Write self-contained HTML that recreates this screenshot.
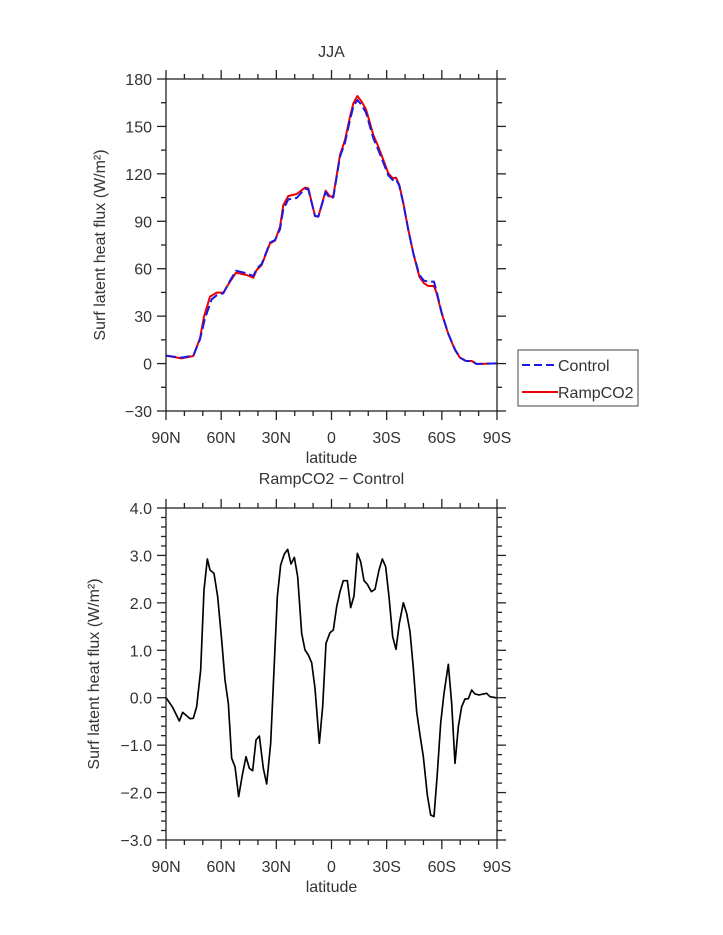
<!DOCTYPE html>
<html><head><meta charset="utf-8"><style>
body{margin:0;background:#fff}
svg{display:block}
text{font-family:"Liberation Sans",sans-serif;fill:#333;font-size:16px}
</style></head><body>
<svg id="s" width="723" height="935" viewBox="0 0 723 935" xmlns="http://www.w3.org/2000/svg">
<g transform="translate(150,60) scale(0.33333)" fill="none" stroke-width="5" stroke-linejoin="round">
<polyline stroke="#e00" stroke-width="6" points="48,887 95,895 130,888 150,835 162,770 180,710 200,698 220,698 240,665 258,638 290,645 310,653 320,630 335,615 360,550 375,542 390,500 400,435 415,408 440,402 465,383 475,385 495,468 505,470 527,392 540,410 550,408 570,285 585,240 600,170 610,130 622,108 635,125 648,148 660,190 670,225 685,260 700,300 715,340 728,355 738,353 748,375 760,430 775,510 790,580 808,650 822,670 835,678 852,678 860,700 875,760 895,822 915,870 930,893 948,903 965,903 980,912 1041,910"/>
<polyline stroke="#1a1ae0" stroke-width="6" stroke-dasharray="30,12" points="48,887 95,893 130,887 150,838 165,775 185,718 200,706 220,700 240,662 258,632 290,640 310,648 320,626 335,612 360,548 375,540 390,508 400,448 415,418 440,414 465,386 475,388 495,468 505,470 527,396 540,416 550,412 570,290 585,248 600,180 610,140 622,120 635,135 648,158 660,200 670,235 685,270 700,308 715,346 728,360 738,357 748,378 760,430 775,510 790,580 808,645 822,662 835,665 852,665 860,695 875,758 895,822 915,868 930,893 948,903 965,903 980,912 1041,910"/>
<g transform="translate(0,1290)"><polyline stroke="#000" points="48,623 68,652 88,693 98,667 120,686 130,685 140,650 152,540 162,300 172,207 180,240 192,250 203,320 215,450 225,570 235,640 245,805 255,830 266,920 277,855 288,800 298,835 308,842 318,750 328,738 340,835 350,882 362,760 372,540 382,320 392,225 403,192 413,178 423,222 433,202 443,260 455,430 465,480 475,495 485,518 495,595 508,760 518,650 528,460 540,428 550,420 560,350 570,305 580,272 592,272 602,353 612,318 622,190 632,215 642,272 652,283 664,305 675,298 687,240 697,207 707,230 717,320 728,440 738,478 748,400 760,338 770,370 780,425 790,535 800,665 810,735 820,800 832,915 842,975 852,980 862,850 872,700 882,610 895,523 905,640 915,820 925,710 935,650 945,627 955,626 965,600 975,612 987,615 1010,610 1020,620 1041,624"/></g>
</g>
<g id="ax" stroke="#222" stroke-width="1.3" fill="none"></g>
<g id="tx"></g>
<rect x="518" y="350" width="120" height="56" fill="none" stroke="#444" stroke-width="1"/>
<line x1="522" y1="365" x2="558" y2="365" stroke="#1a1ae0" stroke-width="2" stroke-dasharray="8,4"/>
<line x1="522" y1="392" x2="558" y2="392" stroke="#e00" stroke-width="2"/>
<text x="558" y="371" font-size="15">Control</text>
<text x="558" y="398" font-size="15">RampCO2</text>
</svg>
<script>
var ns="http://www.w3.org/2000/svg",ax=document.getElementById('ax'),tx=document.getElementById('tx');
function L(a,b,c,d){var e=document.createElementNS(ns,'line');e.setAttribute('x1',a);e.setAttribute('y1',b);e.setAttribute('x2',c);e.setAttribute('y2',d);ax.appendChild(e);}
function T(s,x,y,anc,rot,fs){var e=document.createElementNS(ns,'text');e.setAttribute('x',x);e.setAttribute('y',y);e.setAttribute('text-anchor',anc);if(fs)e.setAttribute('font-size',fs);if(rot)e.setAttribute('transform','rotate(-90 '+x+' '+y+')');e.textContent=s;tx.appendChild(e);}
var X0=166,X1=497,xl=['90N','60N','30N','0','30S','60S','90S'];
function panel(Y0,Y1,ymin,ymax,major,minor,fmt,ylab,title,ty,lx){
 var r=document.createElementNS(ns,'rect');ax.appendChild(r);
 r.setAttribute('x',X0);r.setAttribute('y',Y0);r.setAttribute('width',X1-X0);r.setAttribute('height',Y1-Y0);
 for(var i=0;i<=18;i++){var x=X0+(X1-X0)*i/18,m=i%3==0?9:5;L(x,Y0,x,Y0-m);L(x,Y1,x,Y1+m);if(i%3==0)T(xl[i/3],x,Y1+32,'middle');}
 var n=Math.round((ymax-ymin)/minor);
 for(var j=0;j<=n;j++){var v=ymin+j*minor,y=Y1-(Y1-Y0)*j/n,mj=Math.abs(v/major-Math.round(v/major))<1e-6,m=mj?9:5;L(X0,y,X0-m,y);L(X1,y,X1+m,y);if(mj)T(fmt(v),X0-14,y+6,'end');}
 T('latitude',(X0+X1)/2,Y1+52,'middle');T(ylab,lx,(Y0+Y1)/2,'middle',1);T(title,(X0+X1)/2,ty,'middle',0,18);
}
function f1(v){return v<0?'\u2212'+(-v):''+v}
function f2(v){var s=Math.abs(v).toFixed(1);return (v<-1e-9?'\u2212':'')+s}
panel(79,411,-30,180,30,15,f1,'Surf latent heat flux (W/m\u00B2)','JJA',57,105);
panel(508,840,-3,4,1,0.2,f2,'Surf latent heat flux (W/m\u00B2)','RampCO2 \u2212 Control',484,99);
</script>
</body></html>
